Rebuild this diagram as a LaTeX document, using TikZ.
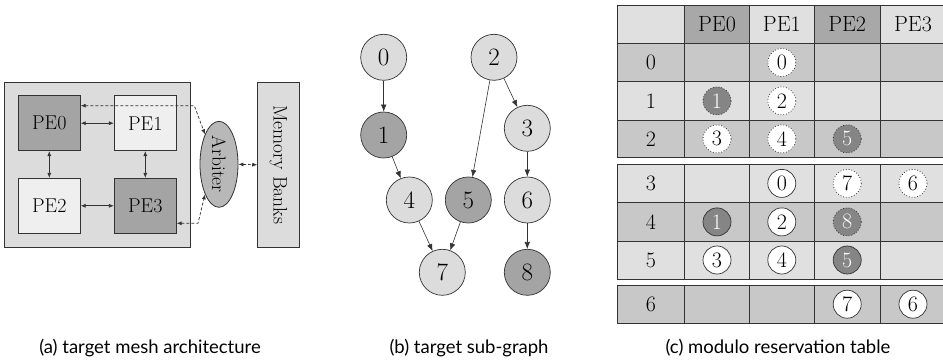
\documentclass[tikz,border=0pt]{standalone}
\usepackage{fontspec}
\newfontfamily\capfont{Lato}
\usetikzlibrary{arrows.meta,shapes.geometric,calc}
\definecolor{lightbg}{HTML}{DCDCDC}
\definecolor{darkpe}{HTML}{A4A4A4}
\definecolor{vlight}{HTML}{EFEFEF}
\definecolor{arbfill}{HTML}{B8B8B8}
\definecolor{linec}{HTML}{333333}
\definecolor{thead}{HTML}{A8A8A8}
\definecolor{tlight}{HTML}{E0E0E0}
\definecolor{tmed}{HTML}{C8C8C8}
\definecolor{tdark}{HTML}{858585}
\begin{document}
\begin{tikzpicture}[x=1pt,y=-1pt,
  pebox/.style={draw=linec,line width=0.8pt,minimum width=62pt,minimum height=55pt,inner sep=0pt,font=\fontsize{20}{22}\selectfont},
  biarrow/.style={{Latex[length=5pt,width=4pt]}-{Latex[length=5pt,width=4pt]},line width=0.7pt,draw=linec},
  dasharrow/.style={{Latex[length=5pt,width=4pt]}-{Latex[length=5pt,width=4pt]},line width=0.7pt,draw=linec,dash pattern=on 3pt off 2pt},
  gn/.style={circle,draw=linec,line width=0.7pt,minimum size=46pt,inner sep=0pt,font=\fontsize{25}{27}\selectfont},
  garrow/.style={-{Latex[length=7pt,width=5.5pt]},line width=0.6pt,draw=linec},
  tc/.style={circle,minimum size=28pt,inner sep=0pt,font=\fontsize{22}{24}\selectfont},
  tcw/.style={tc,fill=white,draw=linec,line width=0.7pt},
  tcwd/.style={tc,fill=white,draw=linec,line width=0.8pt,dotted},
  tcd/.style={tc,fill=tdark,draw=linec,line width=0.7pt,text=white},
  tcdd/.style={tc,fill=tdark,draw=linec,line width=0.8pt,dotted,text=white},
  cell/.style={draw=linec,line width=0.8pt},
  tlabel/.style={inner sep=0pt,font=\fontsize{22}{24}\selectfont},
  caption/.style={inner sep=0pt,font=\capfont\fontsize{18.5}{20}\selectfont}
]
\useasboundingbox (0,0) rectangle (943,364);
\clip (0,0) rectangle (943,364);

% ---------- (a) ----------
\fill[lightbg,draw=linec,line width=0.8pt] (4.3,82.3) rectangle (190,247.3);
\node[pebox,fill=darkpe] (PE0) at (49.3,123.2) {PE0};
\node[pebox,fill=vlight] (PE1) at (145.3,123.2) {PE1};
\node[pebox,fill=vlight] (PE2) at (49.3,205.8) {PE2};
\node[pebox,fill=darkpe] (PE3) at (145.3,205.8) {PE3};
\node[ellipse,draw=linec,line width=0.8pt,fill=arbfill,minimum width=38pt,minimum height=86pt,inner sep=0pt] (arb) at (219,164.3) {};
\node[rotate=-90,font=\fontsize{19.5}{21}\selectfont] (arbt) at (arb.center) {Arbiter};
\node[draw=linec,line width=0.8pt,fill=lightbg,minimum width=41.3pt,minimum height=165pt,inner sep=0pt] (mem) at (278.3,164.8) {};
\node[rotate=-90,font=\fontsize{19.5}{21}\selectfont] (memt) at (mem.center) {Memory Banks};
\draw[biarrow] (PE0) -- (PE1);
\draw[biarrow] (PE2) -- (PE3);
\draw[biarrow] (PE0) -- (PE2);
\draw[biarrow] (PE1) -- (PE3);
\coordinate (d1) at (194.3,105.7);
\coordinate (d2) at (198,223.3);
\draw[dasharrow] (PE0.east |- d1) -- (d1) -- (arb.115);
\draw[dasharrow] (PE3.east |- d2) -- (d2) -- (arb.245);
\draw[dasharrow] (arb.east) -- (mem.west);

% ---------- (b) ----------
\node[gn,fill=lightbg] (g0) at (383.7,57.3) {0};
\node[gn,fill=lightbg] (g2) at (494,57.3) {2};
\node[gn,fill=darkpe] (g1) at (383.7,135) {1};
\node[gn,fill=lightbg] (g3) at (527.3,128.3) {3};
\node[gn,fill=lightbg] (g4) at (409.3,200) {4};
\node[gn,fill=darkpe] (g5) at (468.3,200) {5};
\node[gn,fill=lightbg] (g6) at (527.3,200) {6};
\node[gn,fill=lightbg] (g7) at (442.3,272.3) {7};
\node[gn,fill=darkpe] (g8) at (527.3,272.3) {8};
\draw[garrow] (g0) -- (g1);
\draw[garrow] (g1) -- (g4);
\draw[garrow] (g2) -- (g5);
\draw[garrow] (g2) -- (g3);
\draw[garrow] (g3) -- (g6);
\draw[garrow] (g4) -- (g7);
\draw[garrow] (g5) -- (g7);
\draw[garrow] (g6) -- (g8);

% ---------- (c) ----------
% header
\filldraw[cell,fill=tlight] (617.3,5) rectangle (684.7,43.3);
\filldraw[cell,fill=thead] (684.7,5) rectangle (749.3,43.3);
\filldraw[cell,fill=tlight] (749.3,5) rectangle (814.3,43.3);
\filldraw[cell,fill=thead] (814.3,5) rectangle (880,43.3);
\filldraw[cell,fill=tlight] (880,5) rectangle (946,43.3);
% rows: y0 y1 colour
\foreach \ya/\yb/\c in {43.3/81.7/tmed,81.7/120/tlight,120/157.7/tmed,164/202.7/tlight,202.7/241/tmed,241/279/tlight,285/323.3/tmed}{
  \foreach \xa/\xb in {617.3/684.7,684.7/749.3,749.3/814.3,814.3/880,880/946}{
    \filldraw[cell,fill=\c] (\xa,\ya) rectangle (\xb,\yb);
  }
}
\node[tlabel] (hPE0) at (717,24.2) {PE0};
\node[tlabel] (hPE1) at (781.8,24.2) {PE1};
\node[tlabel] (hPE2) at (847.2,24.2) {PE2};
\node[tlabel] (hPE3) at (913,24.2) {PE3};
\node[tlabel] (r0) at (651,62.5) {0};
\node[tlabel] (r1) at (651,100.9) {1};
\node[tlabel] (r2) at (651,138.9) {2};
\node[tlabel] (r3) at (651,183.4) {3};
\node[tlabel] (r4) at (651,221.9) {4};
\node[tlabel] (r5) at (651,260) {5};
\node[tlabel] (r6) at (651,304.2) {6};
% row 0
\node[tcwd] (a00) at (781.8,62.5) {0};
% row 1
\node[tcdd] (a10) at (717,100.9) {1};
\node[tcwd] (a11) at (781.8,100.9) {2};
% row 2
\node[tcwd] (a20) at (717,138.9) {3};
\node[tcwd] (a21) at (781.8,138.9) {4};
\node[tcdd] (a22) at (847.2,138.9) {5};
% row 3
\node[tcw] (a31) at (781.8,183.4) {0};
\node[tcwd] (a32) at (847.2,183.4) {7};
\node[tcwd] (a33) at (913,183.4) {6};
% row 4
\node[tcd] (a40) at (717,221.9) {1};
\node[tcw] (a41) at (781.8,221.9) {2};
\node[tcdd] (a42) at (847.2,221.9) {8};
% row 5
\node[tcw] (a50) at (717,260) {3};
\node[tcw] (a51) at (781.8,260) {4};
\node[tcd] (a52) at (847.2,260) {5};
% row 6
\node[tcw] (a62) at (847.2,304.2) {7};
\node[tcw] (a63) at (913,304.2) {6};

% ---------- captions ----------
\node[caption] (capa) at (150,348) {(a) target mesh architecture};
\node[caption] (capb) at (469,348) {(b) target sub-graph};
\node[caption] (capc) at (778,348) {(c) modulo reservation table};
\end{tikzpicture}
\end{document}
